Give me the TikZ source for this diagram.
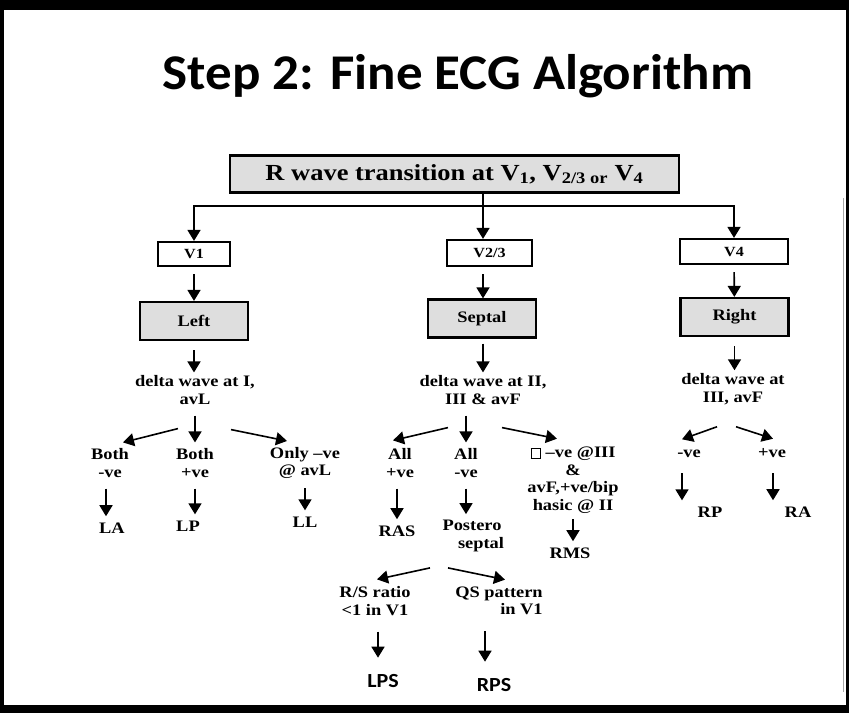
\documentclass[tikz,border=0pt]{standalone}
\usepackage{fontspec}
\setmainfont{Liberation Serif}[FakeStretch=1.15]
\newfontfamily\titlefont{Carlito}[FakeStretch=1.06]
\newfontfamily\ecgsans{Carlito}[FakeStretch=1.1]
\usetikzlibrary{arrows.meta}
\newcommand\hollowsq{{\fboxsep=0pt\fboxrule=0.8pt\fbox{\rule{0pt}{9pt}\hspace{9pt}}}}
\tikzset{
	ecgbox/.style={draw, line width=2.2pt, inner sep=2pt, font=\bfseries\fontsize{14}{16}\selectfont},
	shadebox/.style={ecgbox, fill=black!13, minimum width=108pt, minimum height=38pt, font=\bfseries\fontsize{16}{18}\selectfont},
	lbl/.style={align=center, inner sep=1pt, font=\bfseries\fontsize{16}{17.5}\selectfont},
	diag/.style={line width=1.6pt, -{Triangle[length=11pt,width=13pt]}},
	arr/.style={diag, shorten <=10pt, shorten >=5pt}
}

\begin{document}
\begin{tikzpicture}[x=1pt,y=-1pt]
			%%%%% START %%%%%
			\useasboundingbox (0,0) rectangle (849,713);
			\fill[white] (0,0) rectangle (849,713);
			
			\fill[black] (0,0) rectangle (849,10);
			\fill[black] (0,705) rectangle (849,713);
			\fill[black] (0,0) rectangle (4,713);
			\fill[black] (846,0) rectangle (849,713);
			\draw[black!35, line width=0.8pt] (843,198) -- (843,692);
			
			\node[anchor=base, font=\titlefont\bfseries\fontsize{50}{52}\selectfont] (title) at (458,89) {Step 2: Fine ECG Algorithm};
			
			\node[ecgbox, fill=black!13, minimum width=449pt, minimum height=37pt, font=\bfseries\fontsize{23}{25}\selectfont] (top) at (454.5,174) {R wave transition at V\textsubscript{1}, V\textsubscript{2/3 or} V\textsubscript{4}};
			
			\node[ecgbox, minimum width=72pt, minimum height=24pt] (v1) at (194,254) {V1};
			\node[ecgbox, minimum width=85pt, minimum height=26pt] (v23) at (489.5,253) {V2/3};
			\node[ecgbox, minimum width=108pt, minimum height=25pt] (v4) at (734,251.5) {V4};
			
			\node[shadebox] (left) at (194,321) {Left};
			\node[shadebox] (septal) at (482,318.5) {Septal};
			\node[shadebox] (right) at (734.5,317) {Right};
			
			\coordinate (bar) at (483,206);
			\draw[diag] (top.south -| bar) -- (bar |- v23.north);
			\draw[line width=1.6pt, {Triangle[length=11pt,width=13pt]}-{Triangle[length=11pt,width=13pt]}] (v1.north) -- (v1 |- bar) -- (v4 |- bar) -- (v4.north);
			
			\draw[diag, shorten <=7pt] (v1) -- (left);
			\draw[diag, shorten <=7pt] (v23.south -| bar) -- (bar |- septal.north);
			\draw[diag, shorten <=7pt] (v4) -- (right);
			
			% left branch
			\node[lbl] (dI) at (195,390) {delta wave at I,\\avL};
			\draw[arr, shorten <=9pt, shorten >=2pt] (left.south) -- (left.south |- dI.north);
			
			\node[lbl] (bothneg) at (110,463) {Both\\-ve};
			\node[lbl] (bothpos) at (195,463) {Both\\+ve};
			\node[lbl] (onlyneg) at (305,463) {Only –ve\\@ avL};
			\draw[diag] ([shift={(-17,23)}]dI.south) -- ([shift={(13,-5)}]bothneg.north);
			\draw[arr] (dI.south) -- (dI.south |- bothpos.north);
			\draw[diag] ([shift={(36,24)}]dI.south) -- ([shift={(-18,-5)}]onlyneg.north);
			
			\node[lbl, anchor=base] (la) at (112,533) {LA};
			\node[lbl, anchor=base] (lp) at (188,531) {LP};
			\node[lbl, anchor=base] (ll) at (305,527) {LL};
			\draw[arr] ([xshift=-4pt]bothneg.south) -- ([xshift=-4pt]bothneg.south |- la.north);
			\draw[arr] (bothpos.south) -- (bothpos.south |- lp.north);
			\draw[arr, shorten <=8pt] (onlyneg.south) -- (onlyneg.south |- ll.north);
			
			% septal branch
			\node[lbl] (dII) at (483,390) {delta wave at II,\\III \& avF};
			\draw[arr, shorten <=5pt, shorten >=2pt] (septal.south -| bar) -- (bar |- dII.north);
			
			\node[lbl] (allpos) at (400,463) {All\\+ve};
			\node[lbl] (allneg) at (466,463) {All\\-ve};
			\node[lbl] (rmsq) at (573,480) {\hollowsq{} –ve @III\\\&\\avF,+ve/bip\\hasic @ II};
			\draw[diag] ([shift={(-35,22)}]dII.south) -- ([shift={(-7,-7)}]allpos.north);
			\draw[arr] ([xshift=-17pt]dII.south) -- ([xshift=-17pt]dII.south |- allneg.north);
			\draw[diag] ([shift={(19,22)}]dII.south) -- ([shift={(-16,-7)}]rmsq.north);
			
			\node[lbl, anchor=base] (ras) at (397,536) {RAS};
			\node[lbl] (postero) at (472,536) {Postero\\\hspace*{18pt}septal};
			\node[lbl, anchor=base] (rms) at (570,558) {RMS};
			\draw[arr] ([xshift=-3pt]allpos.south) -- ([xshift=-3pt]allpos.south |- ras.north);
			\draw[arr] (allneg.south) -- (allneg.south |- postero.north);
			\draw[arr, shorten <=5pt] (rmsq.south) -- (rmsq.south |- rms.north);
			
			\node[lbl] (rsratio) at (375,601) {R/S ratio\\<1 in V1};
			\node[lbl, align=right] (qspat) at (499,601) {QS pattern\\in V1};
			\draw[diag] ([shift={(-42,15)}]postero.south) -- ([shift={(2,-6)}]rsratio.north);
			\draw[diag] ([shift={(-24,15)}]postero.south) -- ([shift={(6,-6)}]qspat.north);
			
			\node[anchor=base, inner sep=1pt, font=\ecgsans\bfseries\fontsize{20}{22}\selectfont] (lps) at (383,687) {LPS};
			\node[anchor=base, inner sep=1pt, font=\ecgsans\bfseries\fontsize{20}{22}\selectfont] (rps) at (494,691) {RPS};
			\draw[arr, shorten <=15pt, shorten >=15pt] ([xshift=3pt]rsratio.south) -- ([xshift=3pt]rsratio.south |- lps.north);
			\draw[arr, shorten <=15pt, shorten >=15pt] ([xshift=-14pt]qspat.south) -- ([xshift=-14pt]qspat.south |- rps.north);
			
			% right branch
			\node[lbl] (dIII) at (733,389) {delta wave at\\III, avF};
			\draw[arr, shorten <=9pt, shorten >=2pt] (right.south) -- (right.south |- dIII.north);
			
			\node[lbl, anchor=base] (negr) at (689,457) {-ve};
			\node[lbl, anchor=base] (posr) at (772,457) {+ve};
			\draw[diag] ([shift={(-16,21)}]dIII.south) -- ([shift={(-7,-9)}]negr.north);
			\draw[diag] ([shift={(3,21)}]dIII.south) -- ([shift={(1,-8)}]posr.north);
			
			\node[lbl, anchor=base] (rp) at (710,517) {RP};
			\node[lbl, anchor=base] (ra) at (798,517) {RA};
			\draw[arr, shorten <=15pt] ([xshift=-7pt]negr.south) -- ([xshift=-7pt]negr.south |- rp.north);
			\draw[arr, shorten <=15pt] ([xshift=1pt]posr.south) -- ([xshift=1pt]posr.south |- ra.north);
			
			%%%%% END %%%%%
\end{tikzpicture}
\end{document}
